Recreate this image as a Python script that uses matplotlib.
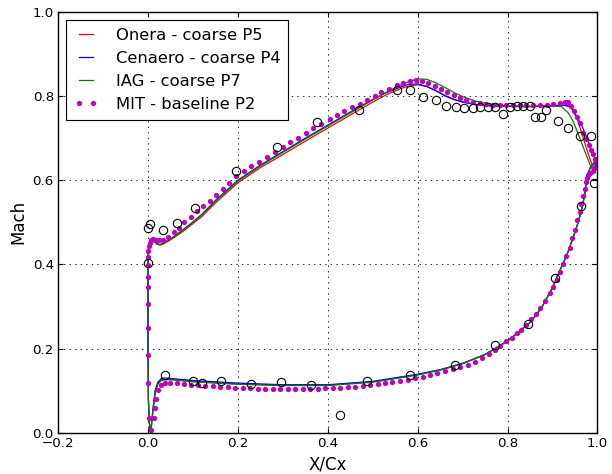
import matplotlib
matplotlib.use("Agg")
import matplotlib.pyplot as plt

# Isentropic Mach number along the blade, suction side (LE -> TE), shared x stations
ss_x = [0.006, 0.003, 0.001, 0.0, 0.0, 0.0005, 0.002, 0.005, 0.009, 0.014, 0.02, 0.027,
        0.035, 0.045, 0.06, 0.08, 0.1, 0.12, 0.15, 0.2, 0.25, 0.3, 0.35, 0.4, 0.45, 0.5,
        0.53, 0.56, 0.58, 0.6, 0.62, 0.64, 0.66, 0.68, 0.7, 0.73, 0.76, 0.8, 0.85, 0.9,
        0.92, 0.935, 0.945, 0.955, 0.965, 0.975, 0.985, 0.99, 0.994, 0.997, 0.999]
onera_ss = [0.0, 0.025, 0.08, 0.25, 0.40, 0.428, 0.443, 0.452, 0.456, 0.455, 0.448, 0.446,
            0.449, 0.455, 0.465, 0.480, 0.497, 0.514, 0.546, 0.594, 0.630, 0.661, 0.693, 0.724,
            0.755, 0.786, 0.803, 0.817, 0.824, 0.827, 0.823, 0.814, 0.802, 0.793, 0.786, 0.780,
            0.777, 0.776, 0.775, 0.777, 0.779, 0.776, 0.767, 0.745, 0.712, 0.677, 0.645, 0.633,
            0.632, 0.637, 0.643]
cenaero_ss = [0.0, 0.025, 0.08, 0.25, 0.40, 0.428, 0.443, 0.452, 0.457, 0.456, 0.449, 0.447,
              0.451, 0.457, 0.468, 0.484, 0.501, 0.519, 0.552, 0.600, 0.636, 0.668, 0.700, 0.731,
              0.762, 0.792, 0.808, 0.821, 0.828, 0.829, 0.823, 0.813, 0.801, 0.792, 0.786, 0.780,
              0.777, 0.776, 0.775, 0.777, 0.779, 0.777, 0.769, 0.750, 0.730, 0.705, 0.677, 0.665,
              0.652, 0.647, 0.643]
iag_ss = [0.0, 0.025, 0.08, 0.25, 0.40, 0.428, 0.443, 0.452, 0.457, 0.456, 0.449, 0.447,
          0.451, 0.457, 0.467, 0.483, 0.500, 0.518, 0.550, 0.598, 0.634, 0.666, 0.698, 0.729,
          0.760, 0.791, 0.809, 0.825, 0.835, 0.841, 0.840, 0.832, 0.821, 0.809, 0.799, 0.788,
          0.781, 0.777, 0.776, 0.777, 0.775, 0.760, 0.742, 0.716, 0.688, 0.660, 0.633, 0.624,
          0.619, 0.627, 0.640]

# Pressure side (LE -> TE), shared x stations
ps_x = [0.006, 0.008, 0.011, 0.016, 0.022, 0.03, 0.04, 0.06, 0.1, 0.15, 0.2, 0.3, 0.4,
        0.5, 0.6, 0.65, 0.7, 0.75, 0.8, 0.85, 0.875, 0.9, 0.916, 0.931, 0.946, 0.957, 0.967,
        0.972, 0.976, 0.98, 0.985, 0.99, 0.995, 0.999]
onera_ps = [0.0, 0.02, 0.052, 0.097, 0.117, 0.126, 0.127, 0.126, 0.122, 0.119, 0.116, 0.113,
            0.113, 0.121, 0.138, 0.149, 0.164, 0.186, 0.218, 0.262, 0.296, 0.345, 0.385, 0.42,
            0.464, 0.5, 0.54, 0.571, 0.603, 0.62, 0.632, 0.638, 0.641, 0.643]
cenaero_ps = [0.0, 0.02, 0.054, 0.1, 0.12, 0.129, 0.13, 0.128, 0.124, 0.121, 0.118, 0.114,
              0.114, 0.122, 0.139, 0.15, 0.165, 0.186, 0.218, 0.262, 0.296, 0.345, 0.385, 0.42,
              0.464, 0.5, 0.54, 0.571, 0.603, 0.62, 0.632, 0.638, 0.641, 0.643]
iag_ps = [0.0, 0.02, 0.05, 0.094, 0.115, 0.124, 0.126, 0.125, 0.121, 0.118, 0.115, 0.112,
          0.112, 0.12, 0.137, 0.149, 0.164, 0.186, 0.218, 0.262, 0.296, 0.345, 0.385, 0.42,
          0.464, 0.5, 0.54, 0.571, 0.603, 0.62, 0.632, 0.638, 0.641, 0.643]

# MIT P2 solution points, suction side (from stagnation point round to the trailing edge)
mit_ss_x = [0.007, 0.003, 0.001, 0.0, 0.0, 0.0, 0.0, 0.0, 0.0, 0.0005, 0.001, 0.002, 0.004,
            0.007, 0.011, 0.018, 0.025, 0.033, 0.044, 0.059, 0.07, 0.081, 0.096, 0.109, 0.122,
            0.137, 0.152, 0.167, 0.181, 0.197, 0.213, 0.23, 0.247, 0.264, 0.282, 0.3, 0.317,
            0.334, 0.351, 0.367, 0.386, 0.404, 0.421, 0.437, 0.455, 0.471, 0.487, 0.504, 0.519,
            0.536, 0.553, 0.567, 0.582, 0.596, 0.61, 0.624, 0.638, 0.652, 0.666, 0.68, 0.694,
            0.708, 0.723, 0.738, 0.753, 0.768, 0.783, 0.797, 0.812, 0.827, 0.842, 0.857, 0.872,
            0.887, 0.901, 0.916, 0.927, 0.935, 0.942, 0.948, 0.954, 0.961, 0.968, 0.975, 0.98,
            0.985, 0.99, 0.994, 0.995, 0.993, 0.989, 0.984]
mit_ss_m = [0.006, 0.034, 0.118, 0.185, 0.25, 0.305, 0.346, 0.37, 0.398, 0.418, 0.433, 0.444,
            0.452, 0.458, 0.46, 0.459, 0.457, 0.458, 0.464, 0.476, 0.487, 0.5, 0.513, 0.527,
            0.539, 0.551, 0.565, 0.579, 0.594, 0.609, 0.622, 0.633, 0.644, 0.656, 0.668, 0.68,
            0.691, 0.701, 0.713, 0.724, 0.734, 0.745, 0.754, 0.764, 0.773, 0.782, 0.79, 0.8,
            0.81, 0.818, 0.826, 0.832, 0.837, 0.839, 0.837, 0.832, 0.825, 0.817, 0.809, 0.802,
            0.796, 0.79, 0.786, 0.783, 0.781, 0.78, 0.779, 0.779, 0.779, 0.779, 0.779, 0.779,
            0.78, 0.78, 0.781, 0.783, 0.786, 0.786, 0.777, 0.764, 0.75, 0.736, 0.712, 0.697,
            0.685, 0.673, 0.662, 0.651, 0.64, 0.63, 0.622, 0.617]

# MIT pressure side
mit_ps_x = [0.013, 0.016, 0.018, 0.023, 0.029, 0.038, 0.05, 0.065, 0.08, 0.096, 0.112, 0.128,
            0.145, 0.161, 0.178, 0.194, 0.211, 0.228, 0.244, 0.261, 0.278, 0.294, 0.311, 0.328,
            0.344, 0.361, 0.378, 0.394, 0.411, 0.428, 0.444, 0.461, 0.478, 0.494, 0.511, 0.528,
            0.544, 0.561, 0.578, 0.594, 0.611, 0.628, 0.644, 0.661, 0.678, 0.694, 0.711, 0.728,
            0.744, 0.758, 0.771, 0.783, 0.797, 0.809, 0.82, 0.83, 0.841, 0.853, 0.863, 0.872,
            0.883, 0.894, 0.901, 0.909, 0.916, 0.923, 0.931, 0.938, 0.944, 0.949, 0.955, 0.96,
            0.964, 0.968, 0.972, 0.975, 0.977, 0.979]
mit_ps_m = [0.034, 0.058, 0.08, 0.101, 0.113, 0.118, 0.119, 0.118, 0.116, 0.114, 0.113, 0.111,
            0.11, 0.109, 0.108, 0.107, 0.106, 0.106, 0.105, 0.105, 0.105, 0.105, 0.105, 0.105,
            0.105, 0.105, 0.105, 0.106, 0.106, 0.107, 0.108, 0.109, 0.111, 0.113, 0.115, 0.117,
            0.12, 0.123, 0.126, 0.129, 0.133, 0.137, 0.141, 0.146, 0.151, 0.156, 0.162, 0.169,
            0.177, 0.186, 0.196, 0.207, 0.217, 0.226, 0.236, 0.245, 0.256, 0.27, 0.283, 0.297,
            0.312, 0.331, 0.347, 0.364, 0.383, 0.4, 0.419, 0.44, 0.462, 0.483, 0.506, 0.525,
            0.543, 0.562, 0.579, 0.595, 0.605, 0.612]

# Experimental data
exp_x = [0.0, 0.001, 0.005, 0.033, 0.065, 0.104, 0.197, 0.286, 0.377, 0.47, 0.553, 0.584,
         0.612, 0.64, 0.664, 0.686, 0.704, 0.722, 0.738, 0.756, 0.772, 0.789, 0.805, 0.82,
         0.835, 0.849, 0.861, 0.875, 0.886, 0.912, 0.935, 0.961, 0.985, 0.992,
         0.038, 0.1, 0.12, 0.163, 0.23, 0.296, 0.363, 0.427, 0.488, 0.583, 0.683, 0.772,
         0.846, 0.905, 0.963]
exp_m = [0.403, 0.487, 0.497, 0.481, 0.499, 0.533, 0.622, 0.679, 0.739, 0.766, 0.814, 0.814,
         0.798, 0.79, 0.776, 0.773, 0.772, 0.772, 0.773, 0.774, 0.774, 0.757, 0.775, 0.776,
         0.776, 0.776, 0.75, 0.75, 0.766, 0.74, 0.724, 0.705, 0.705, 0.594,
         0.136, 0.124, 0.119, 0.124, 0.116, 0.121, 0.114, 0.043, 0.124, 0.137, 0.161, 0.209,
         0.259, 0.367, 0.539]

plt.rcParams["font.family"] = "DejaVu Sans"
plt.rcParams["xtick.direction"] = "in"
plt.rcParams["ytick.direction"] = "in"
plt.rcParams["xtick.top"] = True
plt.rcParams["ytick.right"] = True
plt.rcParams["lines.scale_dashes"] = False

fig = plt.figure(figsize=(6.12, 4.74), dpi=100)
ax = fig.add_axes([0.0948, 0.0871, 0.8815, 0.8876])

def loop(x_ss, m_ss, x_ps, m_ps):
    # walk from the TE along the suction side to the LE, then back along the pressure side
    return x_ss[::-1] + x_ps[1:], m_ss[::-1] + m_ps[1:]

lw = 0.9
xs, ms = loop(ss_x, onera_ss, ps_x, onera_ps)
ax.plot(xs, ms, color="r", lw=lw, label="Onera - coarse P5")
xs, ms = loop(ss_x, cenaero_ss, ps_x, cenaero_ps)
ax.plot(xs, ms, color="b", lw=lw, label="Cenaero - coarse P4")
xs, ms = loop(ss_x, iag_ss, ps_x, iag_ps)
ax.plot(xs, ms, color="g", lw=lw, label="IAG - coarse P7")
ax.plot(mit_ss_x + mit_ps_x, mit_ss_m + mit_ps_m, linestyle="none", marker="o",
        ms=3.8, mfc="m", mec="m", mew=0, label="MIT - baseline P2")
ax.plot(exp_x, exp_m, linestyle="none", marker="o", ms=6, mfc="none", mec="k", mew=0.8)

ax.set_xlim(-0.2, 1.0)
ax.set_ylim(0.0, 1.0)
ax.set_xticks([-0.2, 0.0, 0.2, 0.4, 0.6, 0.8, 1.0])
ax.set_yticks([0.0, 0.2, 0.4, 0.6, 0.8, 1.0])
ax.tick_params(labelsize=9.6, length=3.5, width=0.8, pad=3)
ax.grid(True, color="k", linestyle=(0, (1, 3)), linewidth=0.6)
for s in ax.spines.values():
    s.set_linewidth(1.0)

ax.set_xlabel("X/Cx", fontsize=12)
ax.set_ylabel("Mach", fontsize=12)

leg = ax.legend(loc="upper left", fontsize=11.8, numpoints=2, handlelength=1.5,
                handletextpad=1.1, borderpad=0.45, labelspacing=0.5, fancybox=False,
                framealpha=1)
leg.get_frame().set_edgecolor("k")
leg.get_frame().set_linewidth(0.8)

fig.savefig("out.png", dpi=100)
